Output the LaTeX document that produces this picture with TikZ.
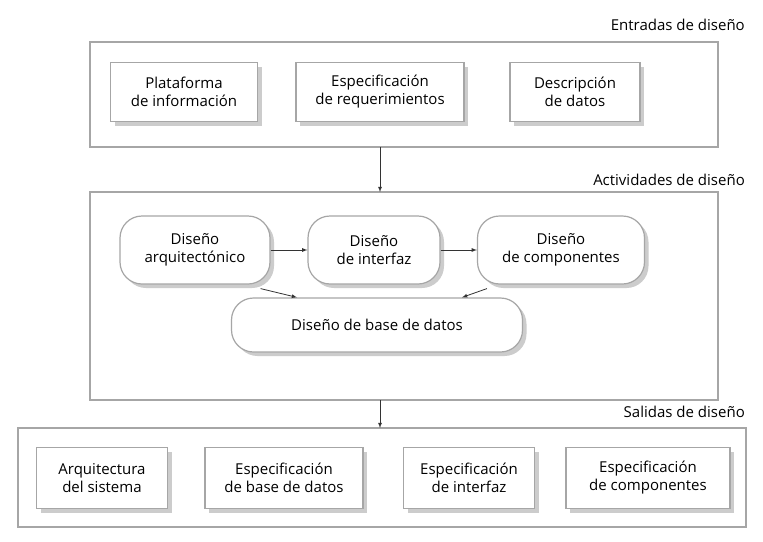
\documentclass[tikz,border=0pt]{standalone}
\usepackage{fontspec}
\setmainfont{Open Sans}
\usetikzlibrary{positioning, shadows}
\tikzset{
	frame/.style={draw=black!35, line width=1.2pt, fill=white},
	item/.style={draw=black!35, line width=1.2pt, fill=white, align=center, inner sep=0pt,
		drop shadow={fill=black!20, opacity=1, shadow xshift=4pt, shadow yshift=-4pt}},
	activity/.style={item, rounded corners=22pt},
	heading/.style={anchor=east, inner sep=0pt},
	flow/.style={->, >=latex, thick, black!80},
}
\begin{document}
\begin{tikzpicture}[x=1pt, y=-1pt, font=\fontsize{15}{18}\selectfont]
	\useasboundingbox (0,0) rectangle (763,541);
	% design inputs
	\node (hin) [heading] at (745,25) {Entradas de diseño};
	\draw[frame] (90,42) rectangle (718,147);
	\node (plat) [item, minimum width=147pt, minimum height=59pt] at (184,92) {Plataforma\\de información};
	\node (esp) [item, minimum width=168pt, minimum height=59pt] at (380,92) {Especificación\\de requerimientos};
	\node (desc) [item, minimum width=130pt, minimum height=59pt] at (575,92) {Descripción\\de datos};
	\coordinate (in1) at (380,147);
	\coordinate (in2) at (380,192);
	% design activities
	\node (hact) [heading] at (745,180) {Actividades de diseño};
	\draw[frame] (90,192) rectangle (718,400);
	\node (arq) [activity, minimum width=150pt, minimum height=68pt] at (195,250) {Diseño\\arquitectónico};
	\node (int) [activity, minimum width=132pt, minimum height=68pt] at (374,250) {Diseño\\de interfaz};
	\node (comp) [activity, minimum width=167pt, minimum height=68pt] at (561,250) {Diseño\\de componentes};
	\node (bd) [activity, minimum width=291pt, minimum height=54pt] at (377,325) {Diseño de base de datos};
	\coordinate (out1) at (380,400);
	\coordinate (out2) at (380,428);
	% design outputs
	\node (hout) [heading] at (745,412) {Salidas de diseño};
	\draw[frame] (18,428) rectangle (746,527);
	\node (oarq) [item, minimum width=131pt, minimum height=61pt] at (102,478) {Arquitectura\\del sistema};
	\node (obd) [item, minimum width=158pt, minimum height=61pt] at (284,478) {Especificación\\de base de datos};
	\node (oint) [item, minimum width=131pt, minimum height=61pt] at (469,478) {Especificación\\de interfaz};
	\node (ocomp) [item, minimum width=164pt, minimum height=61pt] at (648,478) {Especificación\\de componentes};
	
	\begin{scope}[flow]
		\draw (in1) -- (in2);
		\draw (arq) -- (int);
		\draw (int) -- (comp);
		\draw (arq.south east) ++(-10pt,-4pt) -- ([xshift=-80pt]bd.north);
		\draw (comp.south west) ++(10pt,-4pt) -- ([xshift=85pt]bd.north);
		\draw (out1) -- (out2);
	\end{scope}
\end{tikzpicture}
\end{document}
